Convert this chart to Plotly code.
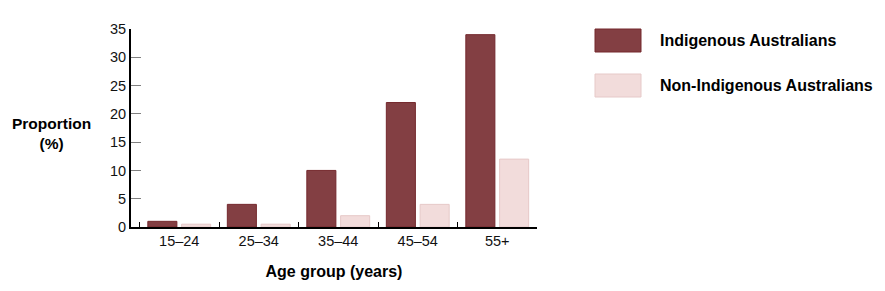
import plotly.graph_objects as go

categories = ["15–24", "25–34", "35–44", "45–54", "55+"]
series_names = ["Indigenous Australians", "Non-Indigenous Australians"]
indigenous = [1, 4, 10, 22, 34]
non_indigenous = [0.5, 0.5, 2, 4, 12]
y_ticks = [0, 5, 10, 15, 20, 25, 30, 35]

fill_colors = ["#833F43", "#F2DCDB"]
line_colors = ["#74282D", "#E6C9C8"]

fig = go.Figure()
for name, vals, fc, lc in zip(series_names, [indigenous, non_indigenous], fill_colors, line_colors):
    fig.add_trace(go.Bar(x=categories, y=vals, name=name, showlegend=False,
                         marker=dict(color=fc, line=dict(color=lc, width=1))))

font = "Liberation Sans, Arial, sans-serif"
fig.update_layout(
    width=885, height=291,
    margin=dict(l=131, r=348, t=29, b=64),
    paper_bgcolor="white", plot_bgcolor="white",
    barmode="group", bargap=0.15, bargroupgap=0.14,
    font=dict(family=font, size=14.5, color="#111"),
)
fig.update_xaxes(
    range=[-0.607, 4.5], showline=True, linecolor="black", linewidth=2,
    ticks="inside", tickson="boundaries", ticklen=5, tickcolor="black", tickwidth=1,
    showgrid=False, zeroline=False, tickfont=dict(size=14.5, color="#111"),
    title=dict(text="<b>Age group (years)</b>", font=dict(size=16, color="black"), standoff=17),
)
fig.update_yaxes(
    range=[0, 35], tickvals=y_ticks, showline=True, linecolor="black", linewidth=2,
    ticks="inside", ticklen=10, tickcolor="#808080", tickwidth=1,
    showgrid=False, zeroline=False, tickfont=dict(size=14.5, color="#111"),
)
pw, ph = 885 - 131 - 348, 291 - 29 - 64
def px2x(px): return (px - 131) / pw
def py2y(py): return 1 - (py - 29) / ph

fig.add_annotation(text="<b>Proportion<br>(%)</b>", xref="paper", yref="paper",
                   x=px2x(51.5), y=py2y(133), xanchor="center", yanchor="middle", showarrow=False,
                   font=dict(size=15.5, color="black", family=font))

# legend swatches
legend_rows = [(29, 52), (74, 97)]
for name, fc, lc, (y0, y1) in zip(series_names, fill_colors, line_colors, legend_rows):
    fig.add_shape(type="rect", xref="paper", yref="paper",
                  x0=px2x(595), x1=px2x(641), y0=py2y(y1), y1=py2y(y0),
                  fillcolor=fc, line=dict(color=lc, width=1))
    fig.add_annotation(text="<b>%s</b>" % name, xref="paper", yref="paper",
                       x=px2x(658), y=py2y((y0 + y1) / 2), xanchor="left", yanchor="middle",
                       showarrow=False, font=dict(size=16, color="black", family=font))

fig.write_html("out.html")
